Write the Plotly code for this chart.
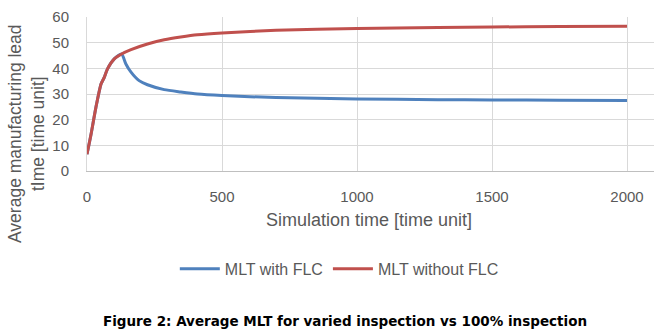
import plotly.graph_objects as go

# Data
t_with = [0, 15, 33, 52, 64, 76, 101, 128, 144, 163, 193, 224, 286, 347, 409, 500, 700, 1000, 1300, 1500, 1750, 2000]
mlt_with = [6.5, 14.3, 24.8, 33.9, 36.5, 39.8, 43.7, 45.6, 41.7, 38.5, 35.2, 33.6, 31.7, 30.8, 30.0, 29.4, 28.6, 28.1, 27.8, 27.7, 27.6, 27.5]

t_without = [0, 15, 33, 52, 64, 76, 101, 128, 163, 224, 286, 347, 409, 500, 700, 1000, 1300, 1500, 1750, 2000]
mlt_without = [6.5, 14.3, 24.8, 33.9, 36.5, 39.8, 43.7, 45.6, 47.3, 49.5, 51.1, 52.2, 53.1, 53.8, 54.8, 55.5, 55.9, 56.1, 56.3, 56.4]

x_ticks = [0, 500, 1000, 1500, 2000]
y_ticks = [0, 10, 20, 30, 40, 50, 60]

series_names = ["MLT with FLC", "MLT without FLC"]
x_title = "Simulation time [time unit]"
y_title = "Average manufacturing lead<br>tIme [time unit]"
caption = "Figure 2: Average MLT for varied inspection vs 100% inspection"

GREY = "#595959"
FONT = "Liberation Sans"

fig = go.Figure()
fig.add_trace(go.Scatter(x=t_with, y=mlt_with, mode="lines", name=series_names[0],
                         line=dict(color="#4F81BD", width=3, shape="spline", smoothing=0.6)))
fig.add_trace(go.Scatter(x=t_without, y=mlt_without, mode="lines", name=series_names[1],
                         line=dict(color="#C0504D", width=3, shape="spline", smoothing=0.6)))

fig.update_layout(
    width=659, height=335,
    margin=dict(l=87, r=5, t=17, b=164, autoexpand=False),
    paper_bgcolor="white", plot_bgcolor="white",
    font=dict(family=FONT, color=GREY, size=15),
    showlegend=True,
    legend=dict(orientation="h", x=0.445, xanchor="center", y=-0.635, yanchor="middle",
                font=dict(size=16, color=GREY), itemwidth=40, tracegroupgap=0),
)
fig.update_xaxes(range=[0, 2100], tickvals=x_ticks, showgrid=True, gridcolor="#D9D9D9",
                 gridwidth=1, showline=True, linecolor="#BFBFBF", linewidth=1, zeroline=False,
                 ticks="", ticklabelstandoff=12, tickfont=dict(size=15, color=GREY))
fig.update_yaxes(range=[0, 60], tickvals=y_ticks, showgrid=True, gridcolor="#D9D9D9",
                 gridwidth=1, showline=True, linecolor="#D9D9D9", linewidth=1, zeroline=False,
                 ticks="", ticklabelstandoff=14, tickfont=dict(size=15, color=GREY))

fig.add_annotation(text=x_title, xref="paper", yref="paper", x=(369 - 87) / 567, y=(171 - 220) / 154,
                   showarrow=False, xanchor="center", yanchor="middle",
                   font=dict(size=18, color=GREY, family=FONT))
fig.add_annotation(text=y_title, xref="paper", yref="paper", x=(26 - 87) / 567, y=(171 - 134) / 154,
                   showarrow=False, xanchor="center", yanchor="middle", textangle=-90,
                   font=dict(size=17.5, color=GREY, family=FONT))
fig.add_annotation(text="<b>" + caption + "</b>", xref="paper", yref="paper",
                   x=(345 - 87) / 567, y=(171 - 321) / 154,
                   showarrow=False, xanchor="center", yanchor="middle",
                   font=dict(size=13.5, color="black", family="DejaVu Sans"))

fig.write_html("out.html", config={"displayModeBar": False},
               post_script="document.body.style.margin='0';")
